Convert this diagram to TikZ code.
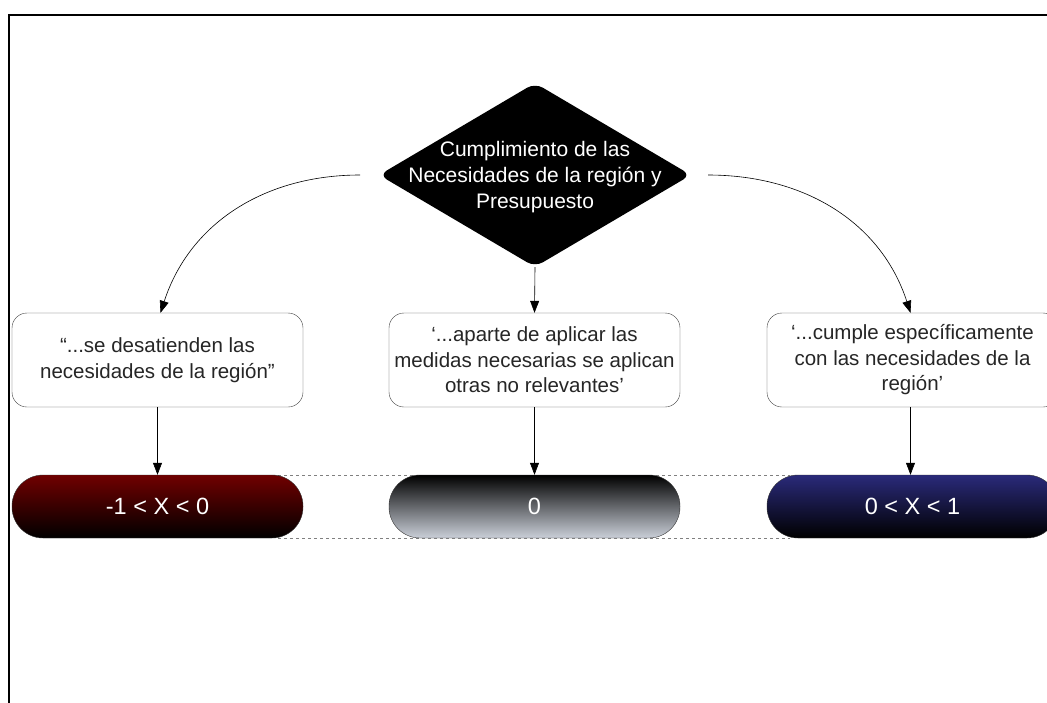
\documentclass[tikz,border=0pt]{standalone}
\usepackage{fontspec}
\setmainfont{Liberation Sans}
\usetikzlibrary{shapes.geometric,arrows.meta}

\definecolor{negred}{RGB}{112,0,0}
\definecolor{posblue}{RGB}{42,42,122}
\definecolor{zerogray}{RGB}{202,207,216}

\tikzset{
    choicebox/.style={draw=black!75, fill=white, rounded corners=15pt, minimum width=291pt,
        minimum height=94pt, inner sep=0pt, align=center, text=black!85,
        font=\fontsize{20.5}{25.5}\selectfont},
    rangepill/.style={draw=black!80, rounded corners=31pt, minimum width=291pt,
        minimum height=63pt, inner sep=0pt, text=white, font=\fontsize{23.5}{27}\selectfont},
    link/.style={-{Triangle[length=12pt,width=9pt]}, line width=0.6pt}
}

\begin{document}
\begin{tikzpicture}[x=1pt, y=-1pt]
        \useasboundingbox (0,0) rectangle (1047,702);
        % Frame
        \draw[line width=1.6pt] (9,730) -- (9,15) -- (1080,15);

        % Decision
        \node[diamond, fill=black, rounded corners=9pt, minimum width=312pt, minimum height=184pt, inner sep=0pt, text=white] (need) at (535,175)
            {\makebox[0pt]{\smash{\raisebox{-7pt}{\fontsize{21}{26}\selectfont\begin{tabular}{c}Cumplimiento de las\\Necesidades de la región y\\Presupuesto\end{tabular}}}}};
        \coordinate (needW) at (360,175);
        \coordinate (needE) at (708,175);

        % Answers
        \node[choicebox] (neglect) at (157.5,360) {“...se desatienden las\\necesidades de la región”};
        \node[choicebox] (extra) at (534.5,360) {‘...aparte de aplicar las\\medidas necesarias se aplican\\otras no relevantes’};
        \node[choicebox] (meets) at (912.5,360) {‘...cumple específicamente\\con las necesidades de la\\región’};

        % Dashed band
        \draw[dashed, gray, line width=0.6pt] (278,475) -- (790,475);
        \draw[dashed, gray, line width=0.6pt] (278,538) -- (790,538);

        % Ranges
        \node[rangepill, top color=negred, bottom color=black] (neg) at (157.5,506.5) {-1 < X < 0};
        \node[rangepill, top color=black, bottom color=zerogray] (zero) at (534.5,506.5) {0};
        \node[rangepill, top color=posblue, bottom color=black] (pos) at (912.5,506.5) {0 < X < 1};

        % Connectors
        \draw[link] (needW) to[out=180, in=72] ([xshift=3pt]neglect.north);
        \draw[link] (need.south) -- (extra.north);
        \draw[link] (needE) to[out=0, in=108] ([xshift=-2pt]meets.north);
        \draw[link] (neglect) -- (neg);
        \draw[link] (extra) -- (zero);
        \draw[link] ([xshift=-2pt]meets.south) -- ([xshift=-2pt]pos.north);
    \end{tikzpicture}
\end{document}
